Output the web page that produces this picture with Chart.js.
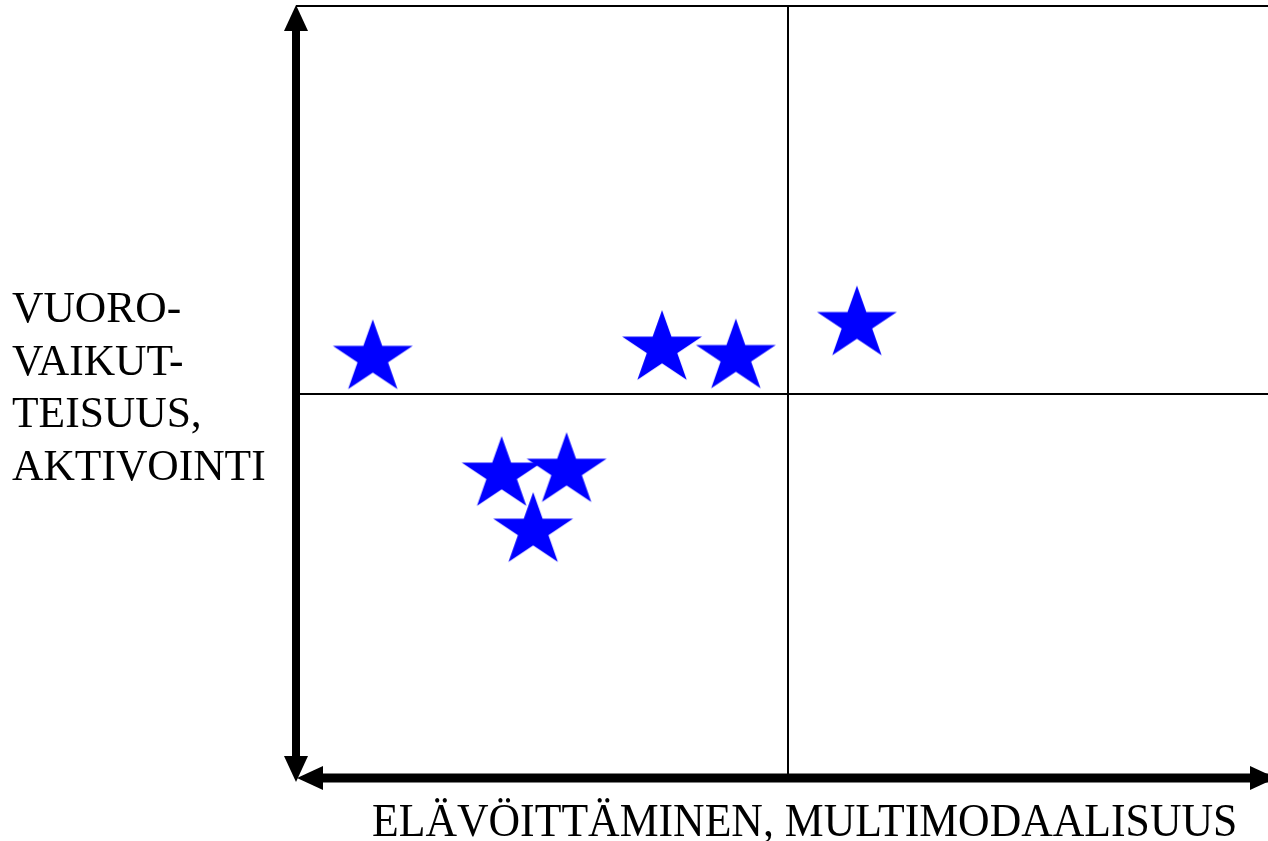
<!DOCTYPE html>
<html>
<head>
<meta charset="utf-8">
<script src="https://cdn.jsdelivr.net/npm/chart.js@4/dist/chart.umd.min.js"></script>
<style>
    html, body { margin: 0; padding: 0; background: #fff; overflow: hidden; }
    #wrap { width: 1280px; height: 841px; }
</style>
</head>
<body>
<div id="wrap"><canvas id="quadChart" width="1280" height="841"></canvas></div>
<script>
// DATA
const xValues = [0.78, 3.72, 4.47, 5.70, 2.09, 2.75, 2.41];
const yValues = [5.47, 5.59, 5.48, 5.91, 3.95, 4.00, 3.22];
const xTitle = 'ELÄVÖITTÄMINEN, MULTIMODAALISUUS';
const yTitleLines = ['VUORO-', 'VAIKUT-', 'TEISUUS,', 'AKTIVOINTI'];
const midValue = 5;

const points = xValues.map((x, i) => ({ x: x, y: yValues[i] }));

// STAR MARKER (filled five-point star)
function makeStar(rx, ry, color) {
    const c = document.createElement('canvas');
    c.width = Math.ceil(rx * 2 + 4);
    c.height = Math.ceil(ry * 2 + 4);
    const g = c.getContext('2d');
    const cx = c.width / 2, cy = c.height / 2;
    const inner = 0.382;
    g.beginPath();
    for (let k = 0; k < 10; k++) {
        const a = -Math.PI / 2 + k * Math.PI / 5;
        const r = k % 2 === 0 ? 1 : inner;
        const px = cx + Math.cos(a) * rx * r;
        const py = cy + Math.sin(a) * ry * r;
        if (k === 0) g.moveTo(px, py); else g.lineTo(px, py);
    }
    g.closePath();
    g.fillStyle = color;
    g.fill();
    return c;
}
const star = makeStar(42, 38.5, '#0000FF');

// ARROW HELPER
function arrowHead(g, tipX, tipY, dir) {
    // dir: 'up' | 'down' | 'left' | 'right'
    const len = 26, half = 12;
    g.beginPath();
    if (dir === 'up') { g.moveTo(tipX, tipY); g.lineTo(tipX - half, tipY + len); g.lineTo(tipX + half, tipY + len); }
    if (dir === 'down') { g.moveTo(tipX, tipY); g.lineTo(tipX - half, tipY - len); g.lineTo(tipX + half, tipY - len); }
    if (dir === 'left') { g.moveTo(tipX, tipY); g.lineTo(tipX + len, tipY - half); g.lineTo(tipX + len, tipY + half); }
    if (dir === 'right') { g.moveTo(tipX, tipY); g.lineTo(tipX - len, tipY - half); g.lineTo(tipX - len, tipY + half); }
    g.closePath();
    g.fill();
}

const quadrantPlugin = {
    id: 'quadrant',
    beforeDatasetsDraw(chart) {
        const g = chart.ctx;
        const a = chart.chartArea;
        const xs = chart.scales.x, ys = chart.scales.y;
        const mx = xs.getPixelForValue(midValue);
        const my = ys.getPixelForValue(midValue);
        g.save();
        g.strokeStyle = '#000';
        g.lineWidth = 2;
        g.beginPath();
        g.moveTo(a.left, a.top); g.lineTo(a.right, a.top);
        g.moveTo(mx, a.top); g.lineTo(mx, a.bottom);
        g.moveTo(a.left, my); g.lineTo(a.right, my);
        g.stroke();
        g.restore();
    },
    afterDraw(chart) {
        const g = chart.ctx;
        const a = chart.chartArea;
        g.save();
        g.fillStyle = '#000';
        g.strokeStyle = '#000';
        // vertical axis with arrows at both ends
        g.lineWidth = 8;
        g.beginPath();
        g.moveTo(a.left, a.top + 20); g.lineTo(a.left, a.bottom - 20);
        g.stroke();
        arrowHead(g, a.left, a.top - 1, 'up');
        arrowHead(g, a.left, a.bottom + 4, 'down');
        // horizontal axis with arrows at both ends
        g.lineWidth = 9;
        g.beginPath();
        g.moveTo(a.left + 20, a.bottom); g.lineTo(a.right - 10, a.bottom);
        g.stroke();
        arrowHead(g, a.left + 1, a.bottom, 'left');
        arrowHead(g, a.right - 4, a.bottom, 'right');

        // titles
        g.font = '43.5px "Liberation Serif", "Times New Roman", serif';
        g.textAlign = 'left';
        g.textBaseline = 'alphabetic';
        yTitleLines.forEach((t, i) => g.fillText(t, 12, 322 + i * 52.7));
        g.translate(372, 836);
        g.scale(1.005, 1.08);
        g.fillText(xTitle, 0, 0);
        g.restore();
    }
};

const ctx = document.getElementById('quadChart');

new Chart(ctx, {
    type: 'scatter',
    data: {
        datasets: [{
            data: points,
            pointStyle: star,
            pointRadius: 40,
            pointHoverRadius: 40
        }]
    },
    options: {
        responsive: false,
        animation: false,
        layout: {
            autoPadding: false,
            padding: { left: 296, right: 0, top: 6, bottom: 63 }
        },
        plugins: {
            legend: { display: false },
            tooltip: { enabled: false }
        },
        scales: {
            x: { type: 'linear', min: 0, max: 10, display: false },
            y: { type: 'linear', min: 0, max: 10.05, display: false }
        }
    },
    plugins: [quadrantPlugin]
});
</script>
</body>
</html>
